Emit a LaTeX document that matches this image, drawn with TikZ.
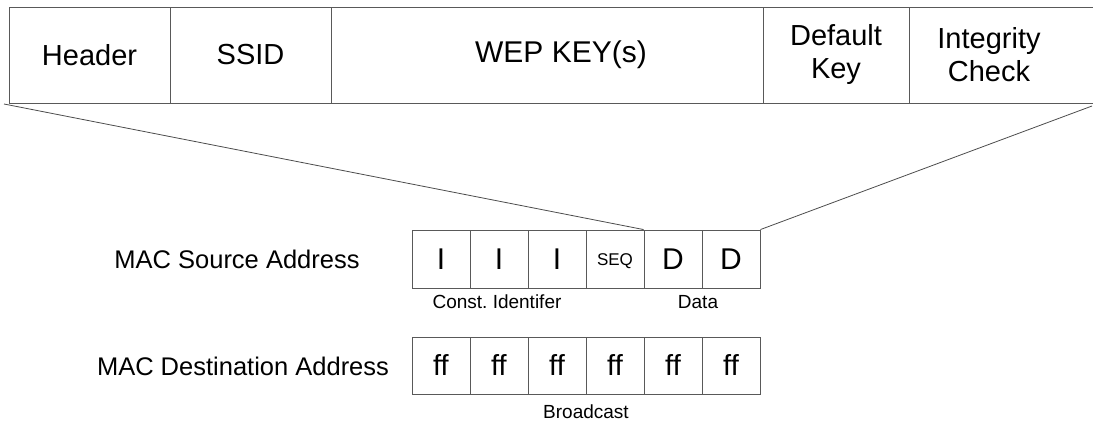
\documentclass[tikz,border=0pt]{standalone}
\usepackage{fontspec}
\setmainfont{Liberation Sans}
\frenchspacing
\begin{document}
\begin{tikzpicture}[x=1pt,y=-1pt,
  box/.style={draw=black!65, line width=0.9pt, inner sep=0pt, align=center},
  field/.style={box, minimum height=96pt, font=\fontsize{29}{33}\selectfont},
  ftext/.style={inner sep=0pt, align=center, font=\fontsize{29}{33}\selectfont},
  cell/.style={box, minimum width=58pt, minimum height=58pt, font=\fontsize{30}{34}\selectfont},
  ffcell/.style={box, minimum width=58pt, minimum height=57pt, font=\fontsize{29}{32}\selectfont},
  lbl/.style={inner sep=0pt, font=\fontsize{25.5}{29}\selectfont},
  small/.style={inner sep=0pt, font=\fontsize{19}{22}\selectfont},
  link/.style={draw=black!70, line width=0.8pt}]
\useasboundingbox (0,0) rectangle (1093,423);
% top frame
\node[field, minimum width=161pt] (hdr) at (89.5,55) {Header};
\node[field, minimum width=161pt] (ssid) at (250.5,55) {SSID};
\node[field, minimum width=432pt] (wep) at (547,55) {};
\node[ftext, font=\fontsize{30}{34}\selectfont] (weptext) at (561,55) {WEP KEY(s)};
\node[field, minimum width=146pt] (dk) at (836,55) {Default\\Key};
\node[field, minimum width=190pt] (ic) at (1004,55) {};
\node[ftext] (ictext) at (989,55) {Integrity\\Check};
% source address
\node[lbl] (srclbl) at (237,259) {MAC Source Address};
\node[cell] (s1) at (441,259) {I};
\node[cell] (s2) at (499,259) {I};
\node[cell] (s3) at (557,259) {I};
\node[cell] (s4) at (615,259) {};
\node[inner sep=0pt, font=\fontsize{17}{20}\selectfont] (seqtext) at (615,261) {SEQ};
\node[cell] (s5) at (673,259) {D};
\node[cell] (s6) at (731,259) {D};
\node[small] (cid) at (497,302) {Const. Identifer};
\node[small] (data) at (698,302) {Data};
% destination address
\node[lbl] (dstlbl) at (243,366) {MAC Destination Address};
\node[ffcell] (d1) at (441,365.5) {ff};
\node[ffcell] (d2) at (499,365.5) {ff};
\node[ffcell] (d3) at (557,365.5) {ff};
\node[ffcell] (d4) at (615,365.5) {ff};
\node[ffcell] (d5) at (673,365.5) {ff};
\node[ffcell] (d6) at (731,365.5) {ff};
\node[small] (bc) at (586,412) {Broadcast};
% expansion lines
\coordinate (lstart) at (4,104);
\coordinate (rstart) at (1092,106);
\draw[link] (lstart) -- (s5.north west);
\draw[link] (rstart) -- (s6.north east);
\end{tikzpicture}
\end{document}
